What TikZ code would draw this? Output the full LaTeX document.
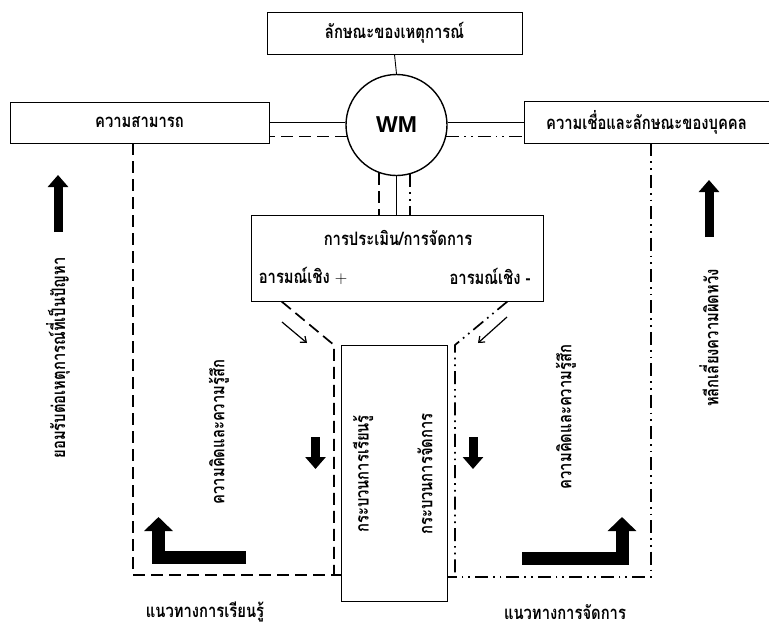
\documentclass[tikz,border=0pt]{standalone}
\usepackage{fontspec}
\setmainfont{Liberation Sans}
\newfontfamily\thaifont[Script=Thai, FakeStretch=0.8]{Loma}
\usetikzlibrary{arrows.meta}

\begin{document}
\begin{tikzpicture}[x=1pt, y=-1pt, >={Straight Barb[length=5pt,width=8pt]},
  box/.style={draw, line width=0.9pt, inner sep=0pt},
  thai/.style={font=\thaifont\bfseries\fontsize{18.5}{20}\selectfont},
  vthai/.style={thai, rotate=90},
  dashline/.style={line width=1.7pt, dash pattern=on 12pt off 6pt},
  dotline/.style={line width=1.7pt, dash pattern=on 13pt off 5pt on 1.7pt off 5pt on 1.7pt off 5pt},
  fatarrow/.style={line width=9pt, -{Triangle[width=20pt,length=12pt]}},
  elbowarrow/.style={line width=13pt, line join=miter, -{Triangle[width=28pt,length=14pt]}}]

\useasboundingbox (0,0) rectangle (769,630);

%------------------ TOP ROW ------------------%
\node[box, thai, minimum width=255, minimum height=42] (event) at (394.5,33) {ลักษณะของเหตุการณ์};
\node[circle, draw, line width=1.4pt, minimum size=101, font=\bfseries\fontsize{23}{23}\selectfont] (wm) at (396.5,125) {WM};
\node[box, thai, minimum width=259, minimum height=41] (ability) at (139.5,122.5) {ความสามารถ};
\node[box, thai, minimum width=245, minimum height=42] (belief) at (646.5,122) {ความเชื่อและลักษณะของบุคคล};

\draw[line width=0.9pt] (event.south) -- (wm.north);
\draw[line width=0.9pt] (ability.east) -- (ability.east -| wm.west);
\draw[line width=0.9pt] (belief.west) -- (belief.west -| wm.east);
\draw[dashline] (wm.193) -- (wm.193 -| ability.east);
\draw[dotline] (wm.347) -- (wm.347 -| belief.west);

%------------------ APPRAISAL ------------------%
\node[box, minimum width=292, minimum height=86] (eval) at (397,258) {};
\node[thai] (evtitle) at (398,238) {การประเมิน/การจัดการ};
\node[thai] (evpos) at (303,276) {อารมณ์เชิง $+$};
\node[thai] (evneg) at (490,276) {อารมณ์เชิง -};

\draw[line width=0.9pt] (wm.south) -- (wm.south |- eval.north);
\draw[dashline] (wm.250) -- (wm.250 |- eval.north);
\draw[dotline] (wm.285) -- (wm.285 |- eval.north);

%------------------ PROCESS BOX ------------------%
\node[box, minimum width=106, minimum height=256] (proc) at (394,473) {};
\node[vthai] (learnproc) at (363,474) {กระบวนการเรียนรู้};
\node[vthai] (copeproc) at (425,474) {กระบวนการจัดการ};

\coordinate (lcorner) at (133,575);
\coordinate (lbend) at (334,345);
\coordinate (rcorner) at (651,577);
\coordinate (rbend) at (455,345);

\draw[dashline] (lcorner |- ability.south) |- (proc.west |- lcorner);
\draw[dashline] ([xshift=31pt]eval.south west) -- (lbend) -- (lbend |- lcorner);
\draw[dotline] (rcorner |- belief.south) |- (proc.east |- rcorner);
\draw[dotline] ([xshift=-36pt]eval.south east) -- (rbend) -- (rbend |- rcorner);

\draw[->, line width=1.2pt] (282,322) -- (307,343);
\draw[->, line width=1.2pt] (507,317) -- (478,343);

%------------------ ARROWS ------------------%
\draw[fatarrow] (315.5,437) -- (315.5,469);
\draw[fatarrow] (473,437) -- (473,469);
\draw[fatarrow] (58,232) -- (58,175);
\draw[fatarrow] (709,237) -- (709,180);
\draw[elbowarrow] (246,557.5) -- (158.5,557.5) -- (158.5,517);
\draw[elbowarrow] (522,558.5) -- (622,558.5) -- (622,517);

%------------------ SIDE LABELS ------------------%
\node[vthai] (accept) at (58,358) {ยอมรับต่อเหตุการณ์ที่เป็นปัญหา};
\node[vthai] (lthought) at (219,432) {ความคิดและความรู้สึก};
\node[vthai] (rthought) at (566,417) {ความคิดและความรู้สึก};
\node[vthai] (avoid) at (709,338) {หลีกเลี่ยงความผิดหวัง};

\node[thai] (learnway) at (205,612) {แนวทางการเรียนรู้};
\node[thai] (copeway) at (565,612) {แนวทางการจัดการ};

\end{tikzpicture}
\end{document}
